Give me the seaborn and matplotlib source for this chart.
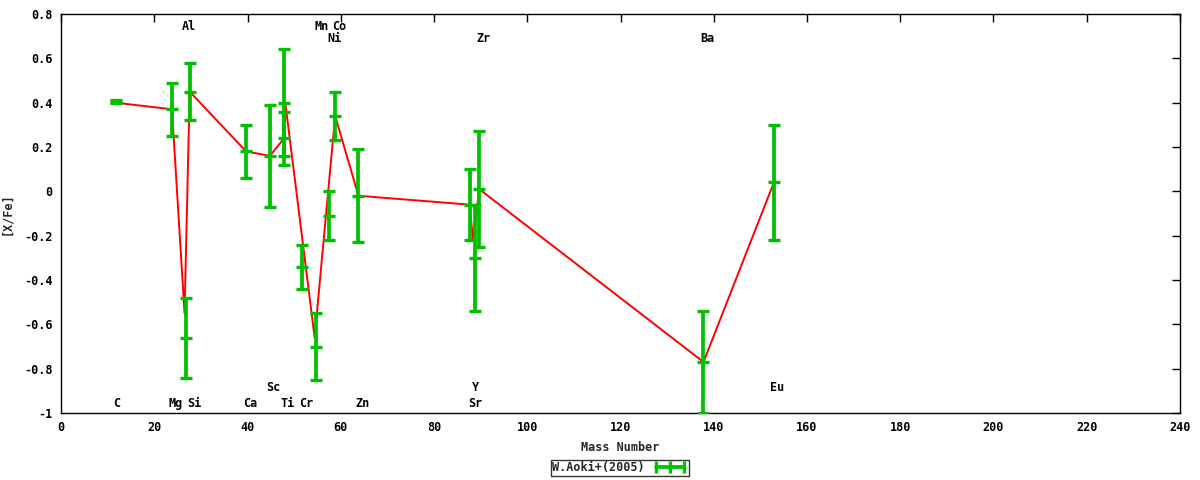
import matplotlib
matplotlib.use("Agg")
import matplotlib.pyplot as plt
from matplotlib.lines import Line2D
from matplotlib.legend_handler import HandlerLine2D
import seaborn as sns
import numpy as np
import pandas as pd

# Observed abundances (green error bars)
mass = [11.7, 23.8, 26.8, 27.6, 39.7, 44.8, 47.9, 47.9, 51.7, 54.7, 57.5, 58.8, 63.8, 87.8, 88.9, 89.7, 137.8, 152.9]
xfe = [0.405, 0.37, -0.66, 0.45, 0.18, 0.16, 0.40, 0.24, -0.34, -0.70, -0.11, 0.34, -0.02, -0.06, -0.30, 0.01, -0.77, 0.04]
err = [0.008, 0.12, 0.18, 0.13, 0.12, 0.23, 0.24, 0.12, 0.10, 0.15, 0.11, 0.11, 0.21, 0.16, 0.24, 0.26, 0.23, 0.26]

# Red line
line_mass = [11.7, 23.8, 26.5, 27.6, 39.7, 44.8, 47.9, 48.1, 54.4, 58.8, 63.8, 87.6, 88.4, 89.7, 137.8, 152.9]
line_xfe = [0.40, 0.37, -0.55, 0.45, 0.18, 0.16, 0.24, 0.40, -0.66, 0.34, -0.02, -0.06, -0.22, 0.01, -0.77, 0.04]

# Element labels
lab_text = ["Al", "Mn", "Co", "Ni", "Zr", "Ba", "C", "Mg", "Si", "Ca", "Ti", "Cr", "Zn", "Sr", "Sc", "Y", "Eu"]
lab_x = [27.5, 55.8, 59.7, 58.6, 90.6, 138.7, 12.0, 24.5, 28.6, 40.6, 48.5, 52.6, 64.6, 88.9, 45.5, 88.9, 153.5]
lab_y = [0.745, 0.745, 0.745, 0.69, 0.69, 0.69, -0.955, -0.955, -0.955, -0.955, -0.955, -0.955, -0.955, -0.955, -0.883, -0.883, -0.883]

xticks = list(range(0, 241, 20))
yticks = [0.8, 0.6, 0.4, 0.2, 0, -0.2, -0.4, -0.6, -0.8, -1]
ytick_labels = ["0.8", "0.6", "0.4", "0.2", "0", "-0.2", "-0.4", "-0.6", "-0.8", "-1"]

sns.set_style("white")
plt.rcParams['font.family'] = ['DejaVu Sans Mono', 'DejaVu Sans']
plt.rcParams['font.weight'] = 'bold'

fig = plt.figure(figsize=(12, 4.8), dpi=100)
ax = fig.add_axes([61/1200, 1 - 413/480, (1180-61)/1200, (413-14)/480])

GREEN = "#00c000"
line_df = pd.DataFrame({"mass": line_mass, "xfe": line_xfe})
sns.lineplot(data=line_df, x="mass", y="xfe", sort=False, estimator=None,
             color="#ff0000", linewidth=1.4, ax=ax, zorder=2)

ax.errorbar(mass, xfe, yerr=err, fmt='_', color=GREEN, ecolor=GREEN,
            elinewidth=2.7, capsize=4.0, capthick=2.4,
            markersize=8, markeredgewidth=2.4, zorder=3)

for t, x, y in zip(lab_text, lab_x, lab_y):
    ax.text(x, y, t, ha="center", va="center", fontsize=8.5, fontweight="bold",
            color="black", zorder=4)

ax.set_xlim(0, 240)
ax.set_ylim(-1, 0.8)
ax.set_xticks(xticks)
ax.set_xticklabels([str(v) for v in xticks])
ax.set_yticks(yticks)
ax.set_yticklabels(ytick_labels)
ax.tick_params(direction="in", length=6, width=1, top=True, right=True,
               labelsize=8.5, colors="black", pad=6)
for lbl in ax.get_xticklabels() + ax.get_yticklabels():
    lbl.set_fontweight("bold")
for sp in ax.spines.values():
    sp.set_color("black")
    sp.set_linewidth(1.0)

ax.set_xlabel("Mass Number", fontsize=8.5, fontweight="bold", labelpad=5)
ax.set_ylabel("[X/Fe]", fontsize=8.5, fontweight="bold", labelpad=8)
ax.grid(False)

handle = Line2D([0], [0], color=GREEN, linewidth=2.7, marker='|',
                markersize=8, markeredgewidth=2.4)
leg = fig.legend(handles=[handle], labels=["W.Aoki+(2005)"], loc="center",
                 bbox_to_anchor=(620/1200, 1 - 468/480), frameon=True,
                 fancybox=False, markerfirst=False, fontsize=8.5,
                 handlelength=3.0, borderpad=0.15, handletextpad=0.6,
                 borderaxespad=0, numpoints=3,
                 handler_map={Line2D: HandlerLine2D(numpoints=3)})
leg.get_frame().set_edgecolor("black")
leg.get_frame().set_linewidth(1.0)
for t in leg.get_texts():
    t.set_fontweight("bold")

fig.savefig("out.png", dpi=100)
